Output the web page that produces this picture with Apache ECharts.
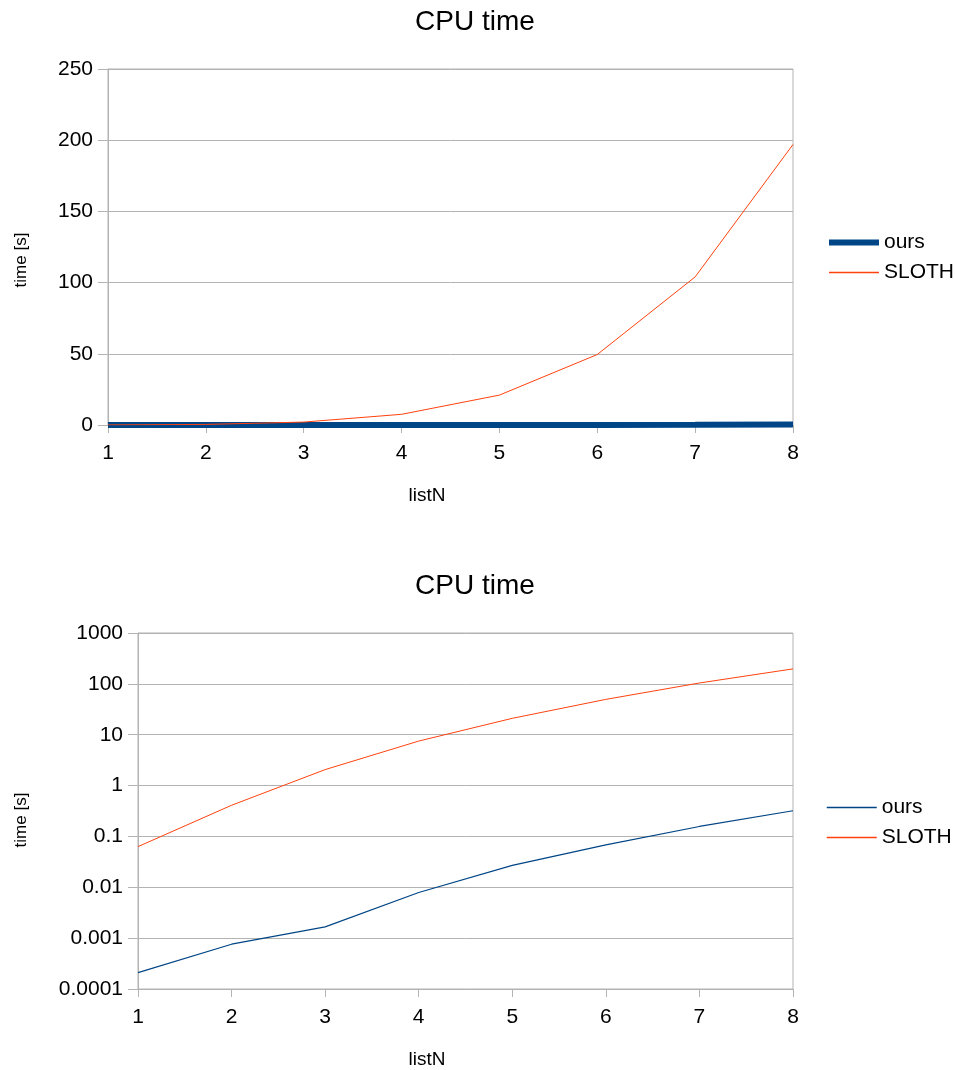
<!DOCTYPE html>
<html>
<head>
<meta charset="utf-8">
<script src="https://cdn.jsdelivr.net/npm/echarts@6/dist/echarts.min.js"></script>
<style>
  html, body { margin: 0; padding: 0; background: #fff; }
  #chart { width: 955px; height: 1070px; }
</style>
</head>
<body>
<div id="chart"></div>
<script>
// data
const listN = ['1', '2', '3', '4', '5', '6', '7', '8']
const oursTime = [0.00021, 0.00076, 0.00167, 0.0079, 0.027, 0.068, 0.157, 0.32]
const slothTime = [0.063, 0.41, 2.06, 7.5, 21, 49.5, 104, 197]
const linearTicks = [0, 50, 100, 150, 200, 250]
const logTicks = ['0.0001', '0.001', '0.01', '0.1', '1', '10', '100', '1000']

const FONT = 'Liberation Sans'
const GRAY = '#b3b3b3'
const BLUE = '#004586'
const RED = '#ff420e'

const chart = echarts.init(document.getElementById('chart'))

// listN is not centred on the plot in the original, shift it left a bit
const xAxisFor = (gridIndex, shift) => ({
  type: 'category',
  gridIndex,
  data: listN,
  boundaryGap: false,
  name: 'listN',
  nameLocation: 'middle',
  nameGap: 61,
  nameTextStyle: { fontFamily: FONT, fontSize: 19, color: '#000', padding: [0, shift, 0, 0] },
  axisLine: { lineStyle: { color: GRAY } },
  axisTick: { length: 8, lineStyle: { color: GRAY } },
  axisLabel: { fontFamily: FONT, fontSize: 21, color: '#000', margin: 18 },
  splitLine: { show: false }
})

const yName = (gap, shift) => ({
  name: 'time [s]',
  nameLocation: 'middle',
  nameGap: gap,
  nameTextStyle: { fontFamily: FONT, fontSize: 17, color: '#000', padding: [0, shift, 0, 0] }
})

// series of the log chart get a suffix so each legend finds its own series
const legendFor = (top, suffix, oursWidth, slothWidth) => ({
  orient: 'vertical',
  left: 826,
  top,
  padding: 0,
  itemWidth: 50,
  itemHeight: 15,
  itemGap: 9,
  itemStyle: { opacity: 0 },
  textStyle: { fontFamily: FONT, fontSize: 21, color: '#000' },
  formatter: name => name.replace(suffix, ''),
  data: [
    { name: 'ours' + suffix, lineStyle: { color: BLUE, width: oursWidth, opacity: 1 } },
    { name: 'SLOTH' + suffix, lineStyle: { color: RED, width: slothWidth, opacity: 1 } }
  ]
})

const option = {
  animation: false,
  title: [
    { text: 'CPU time', left: 470, top: 3, textAlign: 'center',
      textStyle: { fontFamily: FONT, fontSize: 28, fontWeight: 'normal', color: '#000' } },
    { text: 'CPU time', left: 470, top: 567, textAlign: 'center',
      textStyle: { fontFamily: FONT, fontSize: 28, fontWeight: 'normal', color: '#000' } }
  ],
  legend: [legendFor(232, '', 6, 1.5), legendFor(797, ' (log)', 1.5, 1.5)],
  grid: [
    { left: 108, right: 162, top: 69, height: 356, show: true, borderColor: GRAY, borderWidth: 1 },
    { left: 138, right: 162, top: 633, height: 357, show: true, borderColor: GRAY, borderWidth: 1 }
  ],
  xAxis: [xAxisFor(0, 47), xAxisFor(1, 77)],
  yAxis: [
    Object.assign({
      type: 'value',
      gridIndex: 0,
      min: linearTicks[0],
      max: linearTicks[linearTicks.length - 1],
      interval: 50,
      axisLine: { show: true, lineStyle: { color: GRAY } },
      axisTick: { show: true, length: 10, lineStyle: { color: GRAY } },
      axisLabel: { fontFamily: FONT, fontSize: 21, color: '#000', margin: 15 },
      splitLine: { lineStyle: { color: GRAY } }
    }, yName(78, 26)),
    Object.assign({
      type: 'log',
      logBase: 10,
      gridIndex: 1,
      min: Number(logTicks[0]),
      max: Number(logTicks[logTicks.length - 1]),
      axisLine: { show: true, lineStyle: { color: GRAY } },
      axisTick: { show: true, length: 10, lineStyle: { color: GRAY } },
      axisLabel: {
        fontFamily: FONT, fontSize: 21, color: '#000', margin: 15,
        formatter: v => logTicks.find(t => Math.abs(Math.log10(Number(t)) - Math.log10(v)) < 1e-6) || ''
      },
      minorTick: { show: false },
      splitLine: { lineStyle: { color: GRAY } }
    }, yName(108, 18))
  ],
  series: [
    { name: 'ours', type: 'line', xAxisIndex: 0, yAxisIndex: 0, data: oursTime,
      symbol: 'none', lineStyle: { color: BLUE, width: 6 }, itemStyle: { color: BLUE } },
    { name: 'SLOTH', type: 'line', xAxisIndex: 0, yAxisIndex: 0, data: slothTime,
      symbol: 'none', lineStyle: { color: RED, width: 1 }, itemStyle: { color: RED } },
    { name: 'ours (log)', type: 'line', xAxisIndex: 1, yAxisIndex: 1, data: oursTime,
      symbol: 'none', lineStyle: { color: BLUE, width: 1.2 }, itemStyle: { color: BLUE } },
    { name: 'SLOTH (log)', type: 'line', xAxisIndex: 1, yAxisIndex: 1, data: slothTime,
      symbol: 'none', lineStyle: { color: RED, width: 1 }, itemStyle: { color: RED } }
  ]
}

chart.setOption(option)
</script>
</body>
</html>
